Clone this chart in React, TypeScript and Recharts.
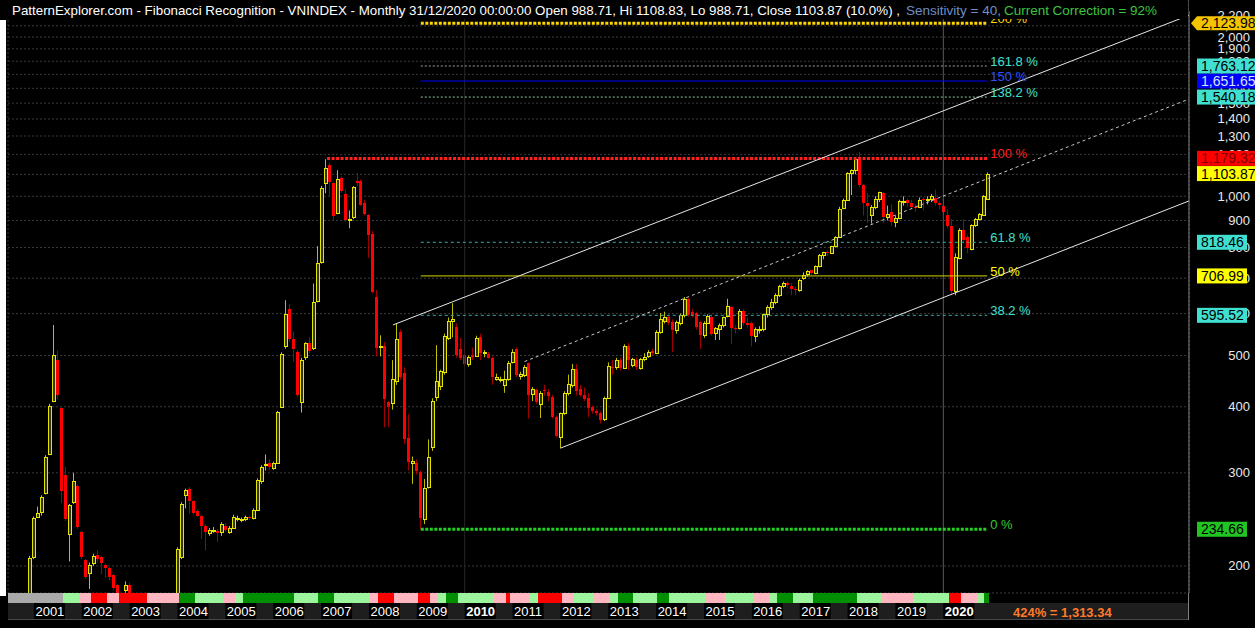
import React from "react";
import {
  ComposedChart,
  Bar,
  XAxis,
  YAxis,
  CartesianGrid,
  ReferenceLine,
} from "recharts";

const FONT = '"Liberation Sans", Arial, Helvetica, sans-serif';

// month index counts from Jan 2000; the first bar is Jul 2000
const FIRST_BAR = 6;

// monthly OHLC, Jul 2000 .. Dec 2020
const opens = [
  100, 100, 106, 117, 130, 168,
  208, 247, 253, 275, 326, 411, 490, 397, 297, 230, 264, 283,
  232, 205, 194, 203, 210, 208, 201, 198, 192, 184, 176, 180,
  184, 162, 152, 144, 140, 150, 148, 146, 148, 140, 133, 140,
  167, 208, 272, 280, 265, 254, 249, 238, 231, 234, 233, 232,
  238, 232, 236, 246, 245, 245, 247, 246, 255, 290, 311, 313,
  306, 313, 400, 520, 612, 538, 508, 408, 497, 528, 516, 634,
  752, 1060, 1147, 1060, 930, 1082, 1011, 903, 914, 1068, 1068, 970,
  922, 850, 645, 518, 522, 408, 406, 447, 553, 464, 349, 313,
  313, 301, 245, 282, 336, 418, 437, 465, 540, 580, 565, 515,
  502, 481, 502, 499, 543, 505, 504, 495, 452, 452, 440, 452,
  485, 514, 457, 459, 483, 423, 430, 405, 430, 426, 418, 382,
  351, 389, 424, 440, 472, 432, 421, 416, 399, 392, 389, 379,
  416, 476, 476, 490, 474, 520, 479, 490, 473, 492, 499, 510,
  505, 553, 582, 590, 579, 558, 577, 596, 640, 604, 601, 579,
  546, 577, 590, 551, 560, 570, 593, 617, 563, 563, 608, 577,
  577, 545, 560, 561, 598, 618, 632, 652, 677, 686, 678, 667,
  665, 700, 712, 724, 716, 737, 776, 784, 782, 804, 837, 950,
  984, 1108, 1121, 1170, 1050, 973, 920, 955, 989, 1016, 913, 932,
  893, 910, 979, 983, 973, 955, 955, 989, 984, 990, 993, 970,
  959, 920, 880, 662, 764, 862, 836, 795, 882, 905, 923, 988.71,
];
const highs = [
  101, 107, 118, 131, 170, 209,
  248, 259, 272, 324, 405, 571, 511, 399, 308, 262, 300, 285,
  233, 206, 203, 211, 214, 209, 202, 199, 193, 185, 178, 187,
  186, 164, 154, 146, 152, 155, 150, 150, 149, 141, 142, 168,
  217, 264, 280, 282, 266, 256, 250, 240, 236, 237, 235, 242,
  241, 238, 250, 249, 247, 249, 249, 257, 293, 310, 325, 318,
  315, 393, 507, 636, 625, 555, 512, 495, 530, 541, 684, 805,
  1046, 1175, 1157, 1062, 1120, 1090, 1030, 940, 1045, 1106, 1075, 985,
  925, 860, 665, 546, 530, 410, 490, 575, 560, 475, 387, 322,
  318, 303, 292, 347, 415, 523, 470, 550, 590, 628, 575, 540,
  530, 500, 518, 545, 550, 512, 508, 498, 462, 456, 468, 488,
  514, 518, 466, 480, 485, 436, 433, 428, 440, 432, 421, 385,
  390, 428, 460, 482, 482, 440, 435, 425, 402, 396, 392, 418,
  485, 490, 495, 495, 525, 528, 495, 495, 495, 505, 512, 515,
  558, 601, 605, 595, 585, 582, 600, 645, 642, 612, 605, 582,
  580, 598, 595, 566, 575, 592, 640, 620, 570, 612, 612, 590,
  580, 565, 568, 600, 622, 640, 655, 680, 690, 690, 685, 675,
  699, 718, 725, 726, 740, 778, 785, 790, 806, 840, 955, 990,
  1110, 1125, 1176, 1213, 1055, 1015, 962, 1000, 1020, 1020, 960, 965,
  920, 985, 1000, 990, 985, 965, 995, 995, 1000, 1010, 1029, 980,
  990, 945, 905, 780, 870, 905, 845, 885, 910, 930, 1005, 1108.83,
];
const lows = [
  99, 100, 105, 116, 128, 166,
  206, 247, 249, 273, 325, 408, 413, 263, 243, 204, 262, 235,
  206, 189, 181, 200, 203, 193, 190, 188, 180, 172, 168, 178,
  160, 150, 142, 138, 139, 146, 144, 143, 138, 130, 131, 139,
  166, 206, 257, 251, 250, 248, 225, 214, 228, 231, 222, 228,
  232, 230, 235, 243, 242, 243, 244, 245, 254, 286, 303, 304,
  304, 312, 398, 515, 530, 486, 418, 390, 490, 505, 512, 630,
  746, 1013, 1000, 900, 925, 1015, 895, 870, 905, 1045, 960, 920,
  765, 655, 498, 498, 366, 366, 395, 440, 450, 340, 303, 286,
  298, 234.66, 240, 280, 330, 410, 430, 460, 535, 541, 495, 490,
  478, 476, 490, 497, 490, 496, 493, 440, 448, 445, 425, 448,
  483, 455, 450, 455, 380, 410, 405, 381, 420, 410, 380, 350,
  334, 386, 420, 435, 420, 418, 410, 382, 388, 385, 372, 376,
  414, 460, 470, 468, 472, 470, 475, 470, 470, 488, 495, 500,
  503, 550, 575, 570, 508, 550, 570, 590, 592, 590, 560, 514,
  540, 575, 545, 535, 535, 565, 590, 525, 550, 560, 570, 565,
  520, 530, 550, 555, 590, 610, 625, 645, 670, 670, 650, 650,
  660, 695, 705, 708, 712, 734, 760, 770, 780, 800, 835, 945,
  980, 1005, 1100, 1040, 920, 890, 888, 945, 975, 890, 900, 880,
  874, 905, 960, 955, 945, 935, 950, 940, 965, 975, 960, 945,
  920, 870, 650, 650, 760, 815, 780, 790, 875, 900, 920, 988.71,
];
const closes = [
  100, 106, 117, 130, 168, 207,
  246, 252, 270, 322, 402, 502, 421, 277, 245, 261, 289, 237,
  208, 191, 201, 209, 206, 203, 198, 191, 182, 176, 172, 184,
  162, 152, 144, 140, 150, 148, 146, 148, 140, 133, 140, 167,
  215, 262, 278, 265, 252, 249, 238, 232, 234, 234, 231, 240,
  234, 236, 247, 246, 245, 247, 246, 255, 291, 308, 312, 308,
  313, 391, 504, 598, 538, 514, 421, 490, 528, 510, 632, 748,
  1036, 1131, 1064, 919, 1078, 1022, 903, 906, 1040, 1060, 964, 925,
  846, 660, 516, 522, 414, 399, 451, 538, 456, 347, 314, 316,
  302, 246, 281, 322, 411, 448, 467, 545, 580, 585, 500, 494,
  481, 497, 497, 540, 505, 508, 495, 455, 455, 452, 452, 483,
  508, 459, 461, 476, 421, 432, 408, 425, 428, 420, 382, 352,
  389, 424, 442, 472, 428, 421, 414, 397, 392, 389, 378, 416,
  478, 474, 490, 474, 520, 490, 492, 476, 492, 497, 508, 505,
  555, 586, 590, 577, 558, 579, 596, 640, 596, 596, 566, 546,
  577, 593, 548, 563, 570, 590, 620, 563, 560, 608, 577, 570,
  545, 560, 561, 598, 618, 632, 652, 677, 685, 679, 667, 665,
  696, 711, 722, 717, 737, 776, 783, 782, 804, 837, 947, 984,
  1108, 1121, 1174, 1050, 970, 960, 955, 989, 1017, 914, 926, 893,
  910, 979, 980, 970, 955, 949, 985, 984, 990, 1000, 970, 961,
  932, 880, 662, 767, 862, 825, 797, 882, 905, 926, 1003, 1103.87,
];

const years = [2001, 2002, 2003, 2004, 2005, 2006, 2007, 2008, 2009, 2010,
  2011, 2012, 2013, 2014, 2015, 2016, 2017, 2018, 2019, 2020];
const priceTicks = [200, 300, 400, 500, 600, 700, 800, 900, 1000, 1100, 1200,
  1300, 1400, 1500, 1600, 1700, 1800, 1900, 2000, 2100, 2200];

// fibonacci levels
const fibNames = ["0 %", "38.2 %", "50 %", "61.8 %", "100 %", "138.2 %", "150 %", "161.8 %", "200 %"];
const fibValues = [234.66, 595.52, 706.99, 818.46, 1179.32, 1540.18, 1651.65, 1763.12, 2123.98];
const fibFrom = [109, 109, 109, 109, 85.5, 109, 109, 109, 109];
const fibTo = 251;
const lastClose = 1103.87;

// channel: start [month, value] -> end [month, value]
const channelFrom = [[102, 571], [135, 487], [144, 334]];
const channelTo = [[301.6, 2199], [301.6, 1527], [301.6, 980]];

// bottom strip: first month of each run + colour code
const stripStarts = [6, 20, 24, 27, 31, 34, 41, 49, 53, 60, 63, 65, 78, 84, 88, 97, 99, 103, 109, 112,
  114, 116, 119, 128, 131, 132, 137, 139, 145, 148, 153, 157, 159, 163, 169, 172, 181, 186, 193, 197,
  199, 203, 208, 219, 225, 233, 242, 245, 249, 251];
const stripCodes = "XLPRPRPGLPLGLGLPRPRPLGLPRPLRPLPLGLGLPLPLGLGLPLRPLG";

// ---- styles / layout
const W = 1255;
const H = 628;
const PLOT_RIGHT = 1189;
const PLOT_BOTTOM = 593;
const X_DOMAIN: [number, number] = [5.5, 301.6];
const Y_DOMAIN: [number, number] = [177.8, 2350];
const BOX_X = 1197;
const MARGIN = { top: 0, right: W - PLOT_RIGHT, bottom: H - PLOT_BOTTOM, left: 8 };

const STRIP_COLORS: Record<string, string> = {
  X: "#a9a9a9", L: "#9cf59c", P: "#ffb6c1", R: "#ff0000", G: "#008f00",
};

const LEVEL_STYLE = [
  { stroke: "#22d022", width: 3, dash: "3 1.5", text: "#33cc33", box: "#22c422", boxText: "#000" },
  { stroke: "#3aa8a8", width: 1, dash: "3 3", text: "#40e0d0", box: "#40e0d0", boxText: "#000" },
  { stroke: "#d4d400", width: 1, dash: undefined, text: "#ffff00", box: "#ffff00", boxText: "#000" },
  { stroke: "#3aa8a8", width: 1, dash: "3 3", text: "#40e0d0", box: "#40e0d0", boxText: "#000" },
  { stroke: "#ff2020", width: 3, dash: "3 1.5", text: "#ff2020", box: "#ff0000", boxText: "#7a0000" },
  { stroke: "#8fc8a0", width: 1, dash: "2 2", text: "#40e0d0", box: "#40e0d0", boxText: "#000" },
  { stroke: "#0000ff", width: 1, dash: undefined, text: "#3050ff", box: "#0000ff", boxText: "#d8e4ff" },
  { stroke: "#a0a0a0", width: 1, dash: "2 2", text: "#40e0d0", box: "#40e0d0", boxText: "#000" },
  { stroke: "#ffd400", width: 3, dash: "3 1.5", text: "#ffd700", box: "#f5c400", boxText: "#000" },
];

const stripCodeOf = (i: number) => {
  let k = 0;
  while (k + 1 < stripStarts.length && stripStarts[k + 1] <= i) k++;
  return stripCodes[k];
};

const rows = closes.map((c, k) => ({
  i: FIRST_BAR + k,
  o: opens[k],
  h: highs[k],
  l: lows[k],
  c,
  range: [lows[k], highs[k]],
  one: 1,
  strip: stripCodeOf(FIRST_BAR + k),
}));

const yearTicks = years.map((y) => (y - 2000) * 12);

const fmt = (v: number, d = 0) =>
  v.toLocaleString("en-US", { minimumFractionDigits: d, maximumFractionDigits: d });

function Candle(props: any) {
  const { x, y, width, height, payload } = props;
  if (x == null || y == null || !payload) return null;
  const { o, h, l, c } = payload;
  const cx = Math.round(x + width / 2) + 0.5;
  const lh = Math.log(h);
  const span = lh - Math.log(l);
  const py = (v: number) => (span > 0 ? y + ((lh - Math.log(v)) / span) * height : y);
  const top = Math.round(py(Math.max(o, c)));
  const bot = Math.round(py(Math.min(o, c)));
  if (c >= o) {
    return (
      <g>
        <line x1={cx} x2={cx} y1={y} y2={y + height} stroke="#c0c000" />
        <rect x={cx - 1} y={top + 0.5} width={3} height={Math.max(bot - top, 1)}
          fill="#333300" stroke="#e6e600" />
      </g>
    );
  }
  return (
    <g>
      <line x1={cx} x2={cx} y1={y} y2={y + height} stroke="#a00000" />
      <rect x={cx - 1.5} y={top} width={3} height={Math.max(bot - top, 1)} fill="#ff0000" />
    </g>
  );
}

function StripCell(props: any) {
  const { x, y, width, height, payload } = props;
  if (x == null || !payload) return null;
  const left = Math.floor(x + width / 2 - 2);
  return (
    <rect x={left} y={y} width={5} height={height} fill={STRIP_COLORS[payload.strip]}
      shapeRendering="crispEdges" />
  );
}

function PriceBox({ y, value, bg, fg, arrow }: any) {
  const w = value >= 1000 ? 70 : 50;
  return (
    <g>
      {arrow ? (
        <polygon
          points={`${BOX_X - 6},${y} ${BOX_X},${y - 7} ${BOX_X + w},${y - 7} ${BOX_X + w},${y + 7} ${BOX_X},${y + 7}`}
          fill={bg}
        />
      ) : (
        <rect x={BOX_X} y={y - 7.5} width={w} height={15} fill={bg} />
      )}
      <text x={BOX_X + 4} y={y + 5} fill={fg} fontSize={14} fontFamily={FONT}>
        {fmt(value, 2)}
      </text>
    </g>
  );
}

function LevelLabel(props: any) {
  const vb = props.viewBox || {};
  const k = props.idx;
  const st = LEVEL_STYLE[k];
  const yy = vb.y ?? 0;
  return (
    <g>
      <text x={(vb.x ?? 0) + (vb.width ?? 0) + 3} y={yy} fill={st.text} fontSize={13} fontFamily={FONT}>
        {fibNames[k]}
      </text>
      <PriceBox y={yy} value={fibValues[k]} bg={st.box} fg={st.boxText} arrow={k === 8} />
    </g>
  );
}

function PriceTick(props: any) {
  const { y, payload } = props;
  return (
    <text x={1250} y={y + 4.5} textAnchor="end" fill="#e8e8e8" fontSize={13} fontFamily={FONT}>
      {fmt(payload.value)}
    </text>
  );
}

function YearTick(props: any) {
  const { x, payload } = props;
  const yr = 2000 + payload.value / 12;
  const bold = yr % 10 === 0;
  return (
    <g>
      <rect x={x} y={10} width={31} height={16} fill="#000" />
      <text x={x + 1.5} y={23} fill="#ffffff" fontSize={13} fontWeight={bold ? 700 : 400} fontFamily={FONT}>
        {yr}
      </text>
    </g>
  );
}

export default function App() {
  return (
    <div style={{ position: "fixed", left: 0, top: 0, width: W, height: H, background: "#000", overflow: "hidden" }}>
      {/* candles, grid, levels, channel, price axis */}
      <div style={{ position: "absolute", left: 0, top: 0 }}>
        <ComposedChart width={W} height={H} data={rows} margin={{ ...MARGIN, right: 0 }}>
          <CartesianGrid stroke="#3a3a3a" strokeDasharray="2 2" />
          <XAxis dataKey="i" type="number" domain={X_DOMAIN} allowDataOverflow ticks={yearTicks}
            height={0} tick={false} axisLine={false} tickLine={false} />
          <YAxis orientation="right" scale="log" domain={Y_DOMAIN} allowDataOverflow ticks={priceTicks}
            interval={0} width={W - PLOT_RIGHT} tick={<PriceTick />} tickLine={false}
            axisLine={{ stroke: "#808080" }} />
          <ReferenceLine x={120} stroke="#262626" strokeWidth={1} />
          <ReferenceLine x={240} stroke="#5a5a5a" strokeWidth={1} />
          {fibValues.map((v, k) => (
            <ReferenceLine
              key={fibNames[k]}
              segment={[{ x: fibFrom[k], y: v }, { x: fibTo, y: v }]}
              stroke={LEVEL_STYLE[k].stroke}
              strokeWidth={LEVEL_STYLE[k].width}
              strokeDasharray={LEVEL_STYLE[k].dash}
            />
          ))}
          {channelFrom.map((a, k) => (
            <ReferenceLine
              key={"ch" + k}
              segment={[{ x: a[0], y: a[1] }, { x: channelTo[k][0], y: channelTo[k][1] }]}
              stroke={k === 1 ? "#c8c8c8" : "#e6e6e6"}
              strokeWidth={1}
              strokeDasharray={k === 1 ? "3 3" : undefined}
            />
          ))}
          <Bar dataKey="range" barSize={3} isAnimationActive={false} shape={(p: any) => <Candle {...p} />} />
        </ComposedChart>
      </div>

      {/* level names and price boxes, drawn above the price axis */}
      <div style={{ position: "absolute", left: 0, top: 0 }}>
        <ComposedChart width={W} height={H} data={rows} margin={MARGIN}>
          <XAxis dataKey="i" type="number" domain={X_DOMAIN} allowDataOverflow hide />
          <YAxis scale="log" domain={Y_DOMAIN} allowDataOverflow hide />
          <Bar dataKey="range" barSize={3} isAnimationActive={false} shape={() => null} />
          {fibValues.map((v, k) => (
            <ReferenceLine
              key={"lab" + k}
              segment={[{ x: fibFrom[k], y: v }, { x: fibTo, y: v }]}
              stroke="none"
              label={(p: any) => <LevelLabel {...p} idx={k} />}
            />
          ))}
          <ReferenceLine y={lastClose} stroke="none"
            label={(p: any) => <PriceBox y={(p.viewBox || {}).y ?? 0} value={lastClose} bg="#ffff00" fg="#000" />} />
        </ComposedChart>
      </div>

      {/* year label row background */}
      <div style={{ position: "absolute", left: 8, top: 603, width: PLOT_RIGHT - 8, height: 16, background: "#1e1e1e" }} />
      <div style={{ position: "absolute", left: 8, top: 619, width: PLOT_RIGHT - 8, height: 1, background: "#4a4a4a" }} />
      <div style={{ position: "absolute", left: PLOT_RIGHT - 1, top: PLOT_BOTTOM, width: 1, height: 27, background: "#808080" }} />

      {/* colour strip and year labels */}
      <div style={{ position: "absolute", left: 0, top: PLOT_BOTTOM }}>
        <ComposedChart width={W} height={26} data={rows} margin={{ top: 0, right: W - PLOT_RIGHT, bottom: 0, left: 8 }}>
          <XAxis dataKey="i" type="number" domain={X_DOMAIN} allowDataOverflow ticks={yearTicks} interval={0}
            height={16} axisLine={false} tickLine={false} tick={<YearTick />} />
          <YAxis hide domain={[0, 1]} allowDataOverflow />
          <Bar dataKey="one" barSize={4} isAnimationActive={false} shape={(p: any) => <StripCell {...p} />} />
        </ComposedChart>
      </div>

      <svg width={W} height={H} style={{ position: "absolute", left: 0, top: 0, pointerEvents: "none" }}>
        <rect x={0} y={0} width={PLOT_RIGHT - 1} height={19} fill="#000" />
        <rect x={PLOT_RIGHT} y={0} width={W - PLOT_RIGHT} height={11} fill="#000" />
        <rect x={0} y={20} width={6} height={576} fill="#ffffff" />
        <text x={12} y={15} fill="#ffffff" fontSize={13} fontFamily={FONT} textLength={888} lengthAdjust="spacingAndGlyphs">
          PatternExplorer.com - Fibonacci Recognition - VNINDEX - Monthly 31/12/2020 00:00:00 Open 988.71, Hi 1108.83, Lo 988.71, Close 1103.87 (10.0%) ,
        </text>
        <text x={906} y={15} fill="#6f8fc4" fontSize={13} fontFamily={FONT} textLength={95} lengthAdjust="spacingAndGlyphs">
          Sensitivity = 40,
        </text>
        <text x={1004} y={15} fill="#3cc43c" fontSize={13} fontFamily={FONT} textLength={153} lengthAdjust="spacingAndGlyphs">
          Current Correction = 92%
        </text>
        <text x={1013} y={617} fill="#ff7a2a" fontSize={13} fontWeight={700} fontFamily={FONT}>
          424% = 1,313.34
        </text>
      </svg>
    </div>
  );
}
